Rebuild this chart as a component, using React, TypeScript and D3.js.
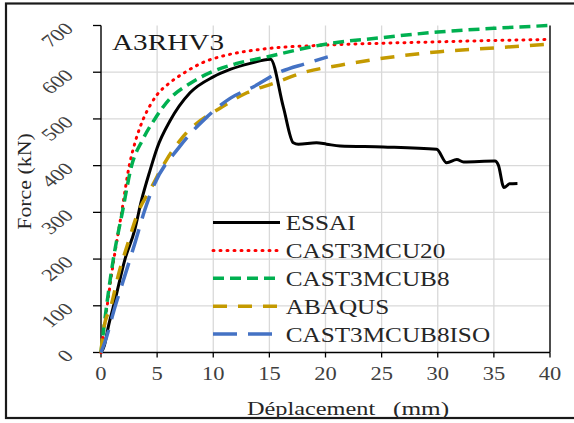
import React from "react";
import * as d3 from "d3";

// ---- data (displacement mm, force kN) ----
const essaiD = [0, 0.3, 0.65, 1.25, 2.14, 3.0, 3.6, 4.37, 5.0, 6.15, 7.93, 10.0, 11.5, 13.3, 15.1, 16.24, 17.13, 17.58, 19.2, 20.1, 21.3, 25.15, 29.9, 30.8, 31.7, 32.3, 35.1, 35.4, 35.9, 36.4, 37.1];
const essaiF = [0, 15, 55, 112, 200, 262, 325, 390, 438, 496, 556, 590, 606, 619, 628, 526, 449, 446, 449, 446, 442, 440, 435, 406, 413, 408, 410, 401, 353, 361, 362];

const cu20D = [0, 0.55, 1.15, 1.84, 2.52, 3.1, 3.77, 4.4, 5, 6, 7.5, 9, 10.9, 13, 15, 20, 25, 30, 35, 40];
const cu20F = [0, 100, 200, 300, 400, 455, 500, 530, 552, 575, 600, 620, 635, 645, 651, 658, 662, 665, 668, 670];

const cub8D = [0, 0.5, 1.1, 1.9, 2.73, 3.7, 4.8, 6.2, 7.93, 10, 12, 15.05, 17.5, 20, 25, 30, 35, 40];
const cub8F = [0, 100, 200, 300, 400, 455, 500, 545, 576, 602, 618, 634, 648, 660, 674, 686, 694, 700];

const abaqusD = [0, 0.2, 0.95, 1.55, 2.4, 3.3, 4.37, 5.85, 7.28, 10.8, 13, 15.35, 18.3, 21.3, 24.3, 30.2, 35, 40];
const abaqusF = [0, 45, 105, 166, 234, 300, 348, 413, 461, 526, 556, 576, 601, 615, 627, 644, 652, 660];

const isoD = [0, 0.36, 1.25, 2.0, 2.97, 3.9, 4.66, 6.95, 9.47, 11.5, 13.6, 15.9, 18.3, 20.2];
const isoF = [0, 23, 98, 155, 230, 305, 355, 439, 505, 544, 569, 600, 619, 633];

const xTicks = [0, 5, 10, 15, 20, 25, 30, 35, 40];
const yTicks = [0, 100, 200, 300, 400, 500, 600, 700];
const seriesNames = ["ESSAI", "CAST3MCU20", "CAST3MCUB8", "ABAQUS", "CAST3MCUB8ISO"];

const W = 574, H = 423;
const x = d3.scaleLinear().domain([0, 40]).range([101, 550]);
const y = d3.scaleLinear().domain([0, 700]).range([352.5, 25.5]);

const line = d3
  .line<[number, number]>()
  .x((p) => x(p[0]))
  .y((p) => y(p[1]))
  .curve(d3.curveMonotoneX);

const zip = (a: number[], b: number[]) => a.map((v, i) => [v, b[i]] as [number, number]);

const styles = [
  { color: "#000000", width: 3, dash: undefined as string | undefined, cap: "butt" },
  { color: "#FF0000", width: 3, dash: "1 6", cap: "round" },
  { color: "#00B050", width: 3.5, dash: "11 6", cap: "butt" },
  { color: "#C49A00", width: 3.5, dash: "14 11", cap: "butt" },
  { color: "#4472C4", width: 3.5, dash: "24 11", cap: "butt" },
];

const data = [zip(essaiD, essaiF), zip(cu20D, cu20F), zip(cub8D, cub8F), zip(abaqusD, abaqusF), zip(isoD, isoF)];

const serif = "'Liberation Serif', 'Times New Roman', serif";

export default function App() {
  return (
    <svg width={W} height={H} style={{ position: "fixed", left: 0, top: 0, background: "#fff" }} fontFamily={serif}>
      <rect x={0} y={0} width={W} height={H} fill="#fff" />
      <rect x={6} y={3.5} width={640} height={414.5} fill="none" stroke="#1a1a1a" strokeWidth={2.2} />
      {/* gridlines */}
      {yTicks.filter((t) => t > 0 && t < 700).map((t) => (
        <line key={"gy" + t} x1={x(0)} x2={x(40)} y1={y(t)} y2={y(t)} stroke="#d9d9d9" strokeWidth={1.3} />
      ))}
      {xTicks.filter((t) => t > 0 && t < 40).map((t) => (
        <line key={"gx" + t} x1={x(t)} x2={x(t)} y1={y(700)} y2={y(0)} stroke="#d9d9d9" strokeWidth={1.3} />
      ))}
      {/* axes */}
      <line x1={x(0)} x2={x(40)} y1={y(0)} y2={y(0)} stroke="#000" strokeWidth={1.4} />
      <line x1={x(0)} x2={x(0)} y1={y(0)} y2={y(700)} stroke="#000" strokeWidth={1.4} />
      <line x1={x(40)} x2={x(40)} y1={y(0)} y2={y(700)} stroke="#000" strokeWidth={1.4} />
      {yTicks.map((t) => (
        <line key={"ty" + t} x1={x(0) - 8} x2={x(0)} y1={y(t)} y2={y(t)} stroke="#000" strokeWidth={1.3} />
      ))}
      {xTicks.map((t) => (
        <line key={"tx" + t} x1={x(t)} x2={x(t)} y1={y(0)} y2={y(0) + 5} stroke="#000" strokeWidth={1.3} />
      ))}
      {/* tick labels */}
      {xTicks.map((t) => (
        <text key={"lx" + t} transform={`translate(${x(t)},380) scale(1.25,1)`} textAnchor="middle" fontSize={18} fill="#404040">
          {t}
        </text>
      ))}
      {yTicks.map((t) => (
        <text
          key={"ly" + t}
          transform={`translate(69,${y(t)}) scale(1.3,1) rotate(-45)`}
          textAnchor="end"
          dominantBaseline="central"
          fontSize={17.5}
          fill="#404040"
        >
          {t}
        </text>
      ))}
      {/* axis titles */}
      <text transform="translate(247,414.5) scale(1.28,1)" fontSize={19} fill="#262626">Déplacement</text>
      <text transform="translate(393,414.5) scale(1.33,1)" fontSize={19} fill="#262626">(mm)</text>
      <text transform="translate(31,181.5) rotate(-90) scale(1.15,1)" textAnchor="middle" fontSize={19} fill="#262626">
        Force (kN)
      </text>
      {/* series */}
      {data.map((pts, i) => (
        <path
          key={"s" + i}
          d={line(pts) || ""}
          fill="none"
          stroke={styles[i].color}
          strokeWidth={styles[i].width}
          strokeDasharray={styles[i].dash}
          strokeLinecap={styles[i].cap as any}
          strokeLinejoin="round"
        />
      ))}
      {/* label */}
      <text transform="translate(112,50) scale(1.3,1)" fontSize={22.5} fill="#1a1a1a">A3RHV3</text>
      {/* legend */}
      {seriesNames.map((n, i) => {
        const by = 230 + i * 27.9;
        return (
          <g key={"lg" + n}>
            <line
              x1={213}
              x2={280}
              y1={by - 7.5}
              y2={by - 7.5}
              stroke={styles[i].color}
              strokeWidth={styles[i].width}
              strokeDasharray={styles[i].dash}
              strokeLinecap={styles[i].cap as any}
            />
            <text transform={`translate(285.7,${by}) scale(1.2,1)`} fontSize={21} fill="#262626">
              {n}
            </text>
          </g>
        );
      })}
    </svg>
  );
}
